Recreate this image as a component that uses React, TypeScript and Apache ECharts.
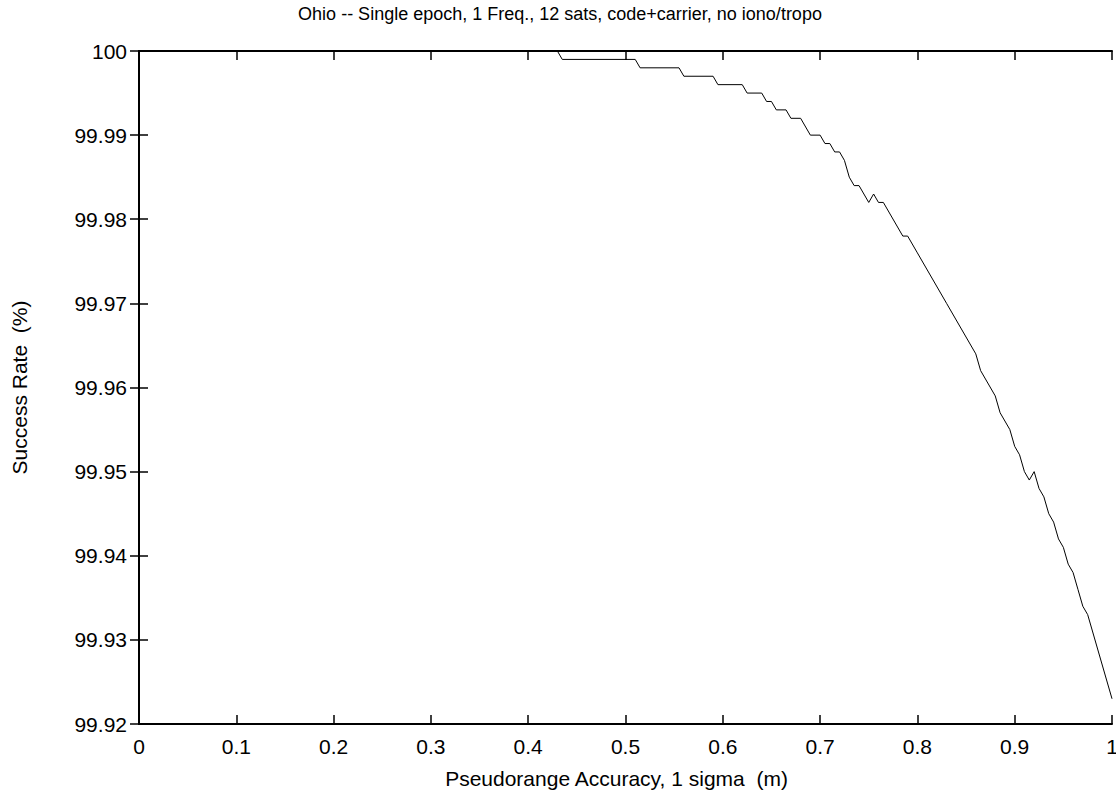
import React, { useEffect, useRef } from "react";
import * as echarts from "echarts";

const sigma = [
  0, 0.43, 0.435, 0.51, 0.515, 0.555, 0.56, 0.59, 0.595, 0.62, 0.625, 0.64, 0.645, 0.65, 0.655,
  0.665, 0.67, 0.68, 0.69, 0.7, 0.705, 0.71, 0.715, 0.72, 0.725, 0.73, 0.735, 0.74, 0.75, 0.755,
  0.76, 0.765, 0.785, 0.79, 0.8, 0.83, 0.86, 0.865, 0.88, 0.885, 0.895, 0.9, 0.905, 0.91, 0.915,
  0.92, 0.925, 0.93, 0.935, 0.94, 0.945, 0.95, 0.955, 0.96, 0.965, 0.97, 0.975, 1.0,
];
const successRate = [
  100, 100, 99.999, 99.999, 99.998, 99.998, 99.997, 99.997, 99.996, 99.996, 99.995, 99.995,
  99.994, 99.994, 99.993, 99.993, 99.992, 99.992, 99.99, 99.99, 99.989, 99.989, 99.988, 99.988,
  99.987, 99.985, 99.984, 99.984, 99.982, 99.983, 99.982, 99.982, 99.978, 99.978, 99.976, 99.97,
  99.964, 99.962, 99.959, 99.957, 99.955, 99.953, 99.952, 99.95, 99.949, 99.95, 99.948, 99.947,
  99.945, 99.944, 99.942, 99.941, 99.939, 99.938, 99.936, 99.934, 99.933, 99.923,
];
const xTicks = ["0", "0.1", "0.2", "0.3", "0.4", "0.5", "0.6", "0.7", "0.8", "0.9", "1"];
const yTicks = ["99.92", "99.93", "99.94", "99.95", "99.96", "99.97", "99.98", "99.99", "100"];

const titleText = "Ohio -- Single epoch, 1 Freq., 12 sats, code+carrier, no iono/tropo";
const xName = "Pseudorange Accuracy, 1 sigma  (m)";
const yName = "Success Rate  (%)";

const FONT = "Liberation Sans, Arial, sans-serif";

export default function App() {
  const ref = useRef<HTMLDivElement>(null);
  useEffect(() => {
    document.body.style.margin = "0";
    const chart = echarts.init(ref.current!, null, { renderer: "svg" });
    const data = sigma.map((s, i) => [s, successRate[i]]);
    const axisLine = { show: true, lineStyle: { color: "#000", width: 2 } };
    const axisTick = { show: true, inside: true, length: 9, lineStyle: { color: "#000", width: 1.5 } };
    const fmtX = (v: number) => xTicks[Math.round(v * 10)] ?? "";
    const fmtY = (v: number) => yTicks[Math.round((v - 99.92) * 100)] ?? "";
    chart.setOption({
      animation: false,
      backgroundColor: "#fff",
      title: {
        text: titleText,
        left: 555,
        top: 0,
        textAlign: "center",
        textStyle: { fontFamily: FONT, fontSize: 18, fontWeight: "normal", color: "#000" },
      },
      grid: {
        left: 139,
        top: 51,
        right: 4,
        bottom: 72,
        containLabel: false,
        outerBoundsMode: "none",
      },
      xAxis: [
        {
          type: "value",
          min: 0,
          max: 1,
          interval: 0.1,
          name: xName,
          nameLocation: "middle",
          nameGap: 44,
          nameTextStyle: { fontFamily: FONT, fontSize: 21, color: "#000", padding: [0, 18, 0, 0] },
          axisLine,
          axisTick,
          splitLine: { show: false },
          axisLabel: { formatter: fmtX, fontFamily: FONT, fontSize: 21, color: "#000", margin: 12 },
        },
        {
          type: "value",
          position: "top",
          min: 0,
          max: 1,
          interval: 0.1,
          axisLine,
          axisTick,
          splitLine: { show: false },
          axisLabel: { show: false },
        },
      ],
      yAxis: [
        {
          type: "value",
          min: 99.92,
          max: 100,
          interval: 0.01,
          name: yName,
          nameLocation: "middle",
          nameGap: 109,
          nameTextStyle: { fontFamily: FONT, fontSize: 21, color: "#000" },
          axisLine,
          axisTick,
          splitLine: { show: false },
          axisLabel: { formatter: fmtY, fontFamily: FONT, fontSize: 21, color: "#000", margin: 12 },
        },
        {
          type: "value",
          position: "right",
          min: 99.92,
          max: 100,
          interval: 0.01,
          axisLine,
          axisTick,
          splitLine: { show: false },
          axisLabel: { show: false },
        },
      ],
      series: [
        {
          type: "line",
          data,
          showSymbol: false,
          symbol: "none",
          lineStyle: { color: "#000", width: 1 },
          clip: true,
        },
      ],
    });
    return () => chart.dispose();
  }, []);
  return <div ref={ref} style={{ width: 1116, height: 796 }} />;
}
